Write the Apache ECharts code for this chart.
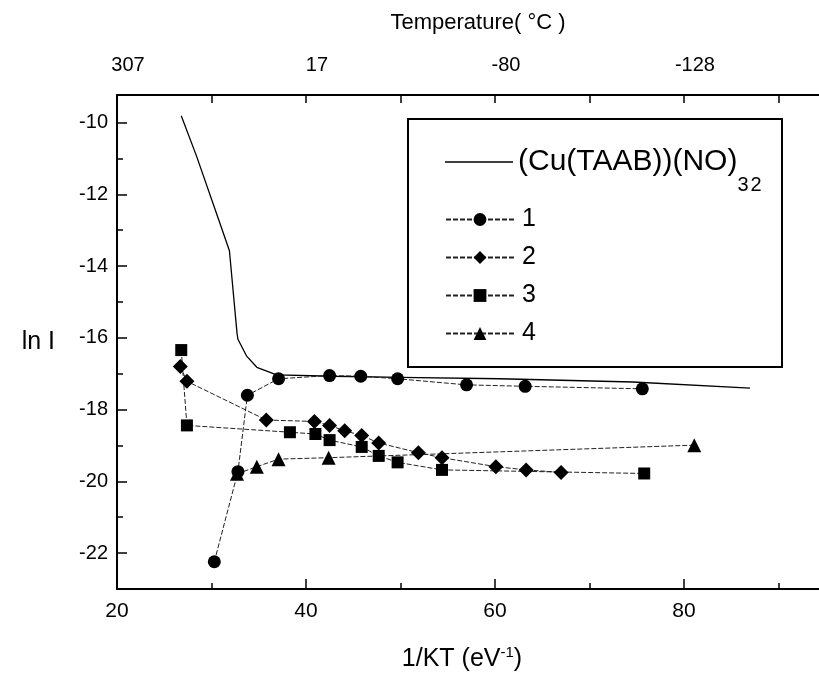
<!DOCTYPE html>
<html>
<head>
<meta charset="utf-8">
<script src="https://cdn.jsdelivr.net/npm/echarts@6/dist/echarts.min.js"></script>
<style>
  html, body { margin: 0; padding: 0; background: #fff; }
  #chart { width: 819px; height: 677px; }
</style>
</head>
<body>
<div id="chart"></div>
<script>
// tick positions / labels
var xMajor = [20, 40, 60, 80];
var xMinor = [30, 50, 70, 90];
var xTop = [20, 30, 40, 50, 60, 70, 80, 90];
var tempLabels = ['307', '17', '-80', '-128'];
var yMajor = [-22, -20, -18, -16, -14, -12, -10];
var yMinor = [-21, -19, -17, -15, -13, -11];

// (Cu(TAAB))(NO3)2 reference curve
var compX = [26.8, 28.4, 30.7, 31.9, 32.7, 32.8, 33.7, 34.8, 36.9, 42.9, 50.0, 60.5, 74.6, 87.0];
var compY = [-9.81, -10.92, -12.66, -13.57, -15.86, -16.04, -16.50, -16.82, -17.03, -17.07, -17.10, -17.14, -17.23, -17.40];

// samples 1..4
var s1X = [30.3, 32.8, 33.8, 37.1, 42.5, 45.8, 49.7, 57.0, 63.2, 75.6];
var s1Y = [-22.24, -19.73, -17.60, -17.14, -17.05, -17.07, -17.14, -17.31, -17.35, -17.42];
var s2X = [26.7, 27.4, 35.8, 40.9, 42.5, 44.1, 45.9, 47.7, 51.9, 54.4, 60.1, 63.3, 67.0];
var s2Y = [-16.80, -17.21, -18.29, -18.33, -18.44, -18.59, -18.72, -18.93, -19.20, -19.34, -19.59, -19.68, -19.75];
var s3X = [26.8, 27.4, 38.3, 41.0, 42.5, 45.9, 47.7, 49.7, 54.4, 75.8];
var s3Y = [-16.34, -18.44, -18.63, -18.68, -18.85, -19.04, -19.29, -19.47, -19.68, -19.78];
var s4X = [32.7, 34.8, 37.1, 42.4, 81.1];
var s4Y = [-19.79, -19.59, -19.38, -19.34, -18.99];

var compName = '(Cu(TAAB))(NO3)2';
var FONT = '"Liberation Sans", Arial, Helvetica, sans-serif';

function zip(xs, ys) {
  return xs.map(function (x, i) { return [x, ys[i]]; });
}

var X_MIN = 20, X_MAX = 94.3, Y_MIN = -23, Y_MAX = -9.23;

function sampleSeries(name, xs, ys, symbol, size) {
  return {
    name: name,
    type: 'line',
    data: zip(xs, ys),
    symbol: symbol,
    symbolSize: size,
    itemStyle: { color: '#000' },
    lineStyle: { color: '#222', width: 1, type: [5, 2] },
    z: 3
  };
}

var myChart = echarts.init(document.getElementById('chart'), null, { renderer: 'canvas' });

var option = {
  animation: false,
  backgroundColor: '#fff',
  textStyle: { fontFamily: FONT, color: '#000' },
  grid: { left: 117, right: 0, top: 95, bottom: 80 },
  xAxis: [
    {
      type: 'value', position: 'bottom', min: X_MIN, max: X_MAX,
      axisLine: { lineStyle: { color: '#000', width: 2 } },
      axisTick: { inside: true, length: 10, customValues: xMajor, lineStyle: { color: '#000', width: 1.5 } },
      axisLabel: { customValues: xMajor, fontSize: 21, margin: 12, color: '#000', fontFamily: FONT },
      splitLine: { show: false },
      name: '1/KT (eV{sup|-1})',
      nameLocation: 'middle',
      nameGap: 56,
      nameTextStyle: {
        fontSize: 25, color: '#000', fontFamily: FONT, padding: [0, 12, 0, 0],
        rich: { sup: { fontSize: 15, fontFamily: FONT, color: '#000', padding: [0, 0, 14, 0] } }
      }
    },
    {
      type: 'value', position: 'bottom', min: X_MIN, max: X_MAX,
      axisLine: { show: false },
      axisTick: { inside: true, length: 6, customValues: xMinor, lineStyle: { color: '#000', width: 1.5 } },
      axisLabel: { show: false },
      splitLine: { show: false }
    },
    {
      type: 'value', position: 'top', min: X_MIN, max: X_MAX,
      axisLine: { lineStyle: { color: '#000', width: 2 } },
      axisTick: { inside: true, length: 8, customValues: xTop, lineStyle: { color: '#000', width: 1.5 } },
      axisLabel: {
        customValues: xMajor, fontSize: 20, margin: 20, color: '#000', fontFamily: FONT,
        padding: [0, 0, 0, 22],
        formatter: function (v) { return tempLabels[xMajor.indexOf(v)]; }
      },
      splitLine: { show: false },
      name: 'Temperature( °C )',
      nameLocation: 'middle',
      nameGap: 61,
      nameTextStyle: { fontSize: 22, color: '#000', fontFamily: FONT, padding: [0, 0, 0, 20] }
    }
  ],
  yAxis: [
    {
      type: 'value', position: 'left', min: Y_MIN, max: Y_MAX,
      axisLine: { lineStyle: { color: '#000', width: 2 } },
      axisTick: { inside: true, length: 10, customValues: yMajor, lineStyle: { color: '#000', width: 1.5 } },
      axisLabel: { customValues: yMajor, fontSize: 20, margin: 9, color: '#000', fontFamily: FONT },
      splitLine: { show: false },
      name: 'ln I',
      nameLocation: 'middle',
      nameRotate: 0,
      nameGap: 62,
      nameTextStyle: { fontSize: 25, color: '#000', fontFamily: FONT }
    },
    {
      type: 'value', position: 'left', min: Y_MIN, max: Y_MAX,
      axisLine: { show: false },
      axisTick: { inside: true, length: 6, customValues: yMinor, lineStyle: { color: '#000', width: 1.5 } },
      axisLabel: { show: false },
      splitLine: { show: false }
    }
  ],
  legend: [
    {
      data: [{ name: compName, icon: 'rect' }],
      left: 445, top: 147,
      padding: 0,
      itemWidth: 68, itemHeight: 1.5,
      selectedMode: false,
      itemStyle: { color: '#000' },
      formatter: function () { return '{a|(Cu(TAAB))(NO)}{s|3}{t|2}'; },
      textStyle: {
        fontFamily: FONT, color: '#000',
        rich: {
          a: { fontSize: 30, fontFamily: FONT, color: '#000' },
          s: { fontSize: 20, fontFamily: FONT, color: '#000', padding: [46, 0, 0, 0] },
          t: { fontSize: 20, fontFamily: FONT, color: '#000', padding: [46, 0, 0, 2] }
        }
      }
    },
    {
      data: ['1', '2', '3', '4'],
      orient: 'vertical',
      left: 445, top: 207,
      padding: 0,
      itemWidth: 68, itemHeight: 16,
      itemGap: 13,
      selectedMode: false,
      textStyle: { fontSize: 25, lineHeight: 24, fontFamily: FONT, color: '#000', padding: [0, 0, 0, 3] }
    }
  ],
  graphic: [
    {
      type: 'rect', z: 3,
      shape: { x: 408, y: 119, width: 374, height: 248 },
      style: { fill: '#fff', stroke: '#000', lineWidth: 2 }
    }
  ],
  series: [
    {
      name: compName,
      type: 'line',
      data: zip(compX, compY),
      symbol: 'none',
      lineStyle: { color: '#000', width: 1.3 },
      z: 2
    },
    sampleSeries('1', s1X, s1Y, 'circle', 13),
    sampleSeries('2', s2X, s2Y, 'diamond', 15),
    sampleSeries('3', s3X, s3Y, 'rect', 12),
    sampleSeries('4', s4X, s4Y, 'triangle', 14)
  ]
};

myChart.setOption(option);
</script>
</body>
</html>
